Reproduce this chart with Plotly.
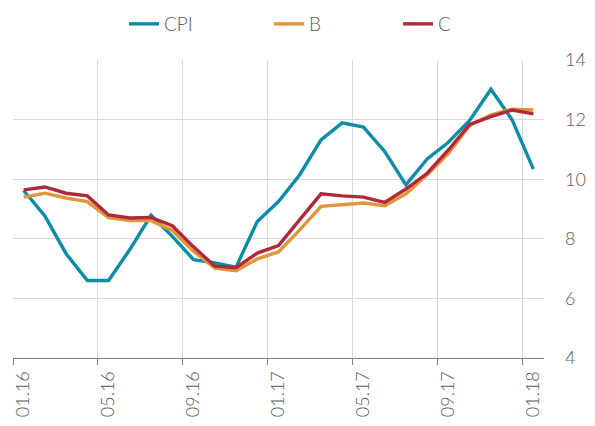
import plotly.graph_objects as go

months = ["01.16","02.16","03.16","04.16","05.16","06.16","07.16","08.16","09.16","10.16","11.16","12.16",
          "01.17","02.17","03.17","04.17","05.17","06.17","07.17","08.17","09.17","10.17","11.17","12.17","01.18"]
cpi = [9.62, 8.77, 7.50, 6.60, 6.60, 7.64, 8.79, 8.08, 7.30, 7.19, 7.05, 8.58,
       9.25, 10.15, 11.32, 11.89, 11.75, 10.93, 9.81, 10.68, 11.24, 11.97, 13.02, 11.99, 10.34]
b = [9.40, 9.53, 9.37, 9.25, 8.71, 8.61, 8.61, 8.28, 7.58, 7.02, 6.93, 7.33,
     7.56, 8.30, 9.09, 9.14, 9.20, 9.11, 9.51, 10.15, 10.87, 11.80, 12.16, 12.35, 12.32]
c = [9.64, 9.74, 9.53, 9.44, 8.80, 8.70, 8.72, 8.44, 7.73, 7.08, 7.03, 7.52,
     7.77, 8.64, 9.51, 9.44, 9.40, 9.22, 9.67, 10.20, 10.98, 11.84, 12.10, 12.32, 12.19]

series = [("CPI", cpi, "#0B8DA9", "legend"), ("B", b, "#E1963A", "legend2"), ("C", c, "#B0283A", "legend3")]
idx = list(range(len(months)))
label_idx = idx[::4]

W, H = 595, 426
fig = go.Figure()
for name, vals, col, lg in series:
    fig.add_trace(go.Scatter(x=idx, y=vals, mode="lines", name=name, legend=lg,
                             line=dict(color=col, width=3.4), hoverinfo="skip"))

fnt = dict(family="Lato, Open Sans, sans-serif", color="#595959", weight=300)

def leg(text_x):
    return dict(orientation="h", xref="container", x=(text_x - 46) / W, xanchor="left",
                yref="container", y=1 - 24 / H, yanchor="middle",
                font=dict(size=19, **fnt), bgcolor="rgba(0,0,0,0)")

fig.update_layout(
    width=W, height=H,
    margin=dict(l=12.5, r=51, t=60, b=68, autoexpand=False),
    paper_bgcolor="white", plot_bgcolor="white",
    showlegend=True,
    legend=leg(170), legend2=leg(315), legend3=leg(444),
    xaxis=dict(range=[-0.5, 24.5], tickmode="array", tickvals=label_idx,
               ticktext=[months[i] for i in label_idx], tickangle=-90,
               showgrid=False, ticks="", showline=True, linecolor="#7F7F7F", linewidth=1,
               tickfont=dict(size=18, **fnt), zeroline=False, ticklabelstandoff=5,
               minor=dict(tickmode="linear", tick0=-0.5, dtick=4, ticks="outside", ticklen=6,
                          tickcolor="#7F7F7F", showgrid=True, gridcolor="#D9D9D9", gridwidth=1)),
    yaxis=dict(range=[4, 14], dtick=2, side="right", showgrid=True, gridcolor="#D9D9D9",
               gridwidth=1, zeroline=False, showline=False, ticks="",
               tickfont=dict(size=18, **fnt), ticklabelstandoff=20),
)
fig.write_html("out.html")
